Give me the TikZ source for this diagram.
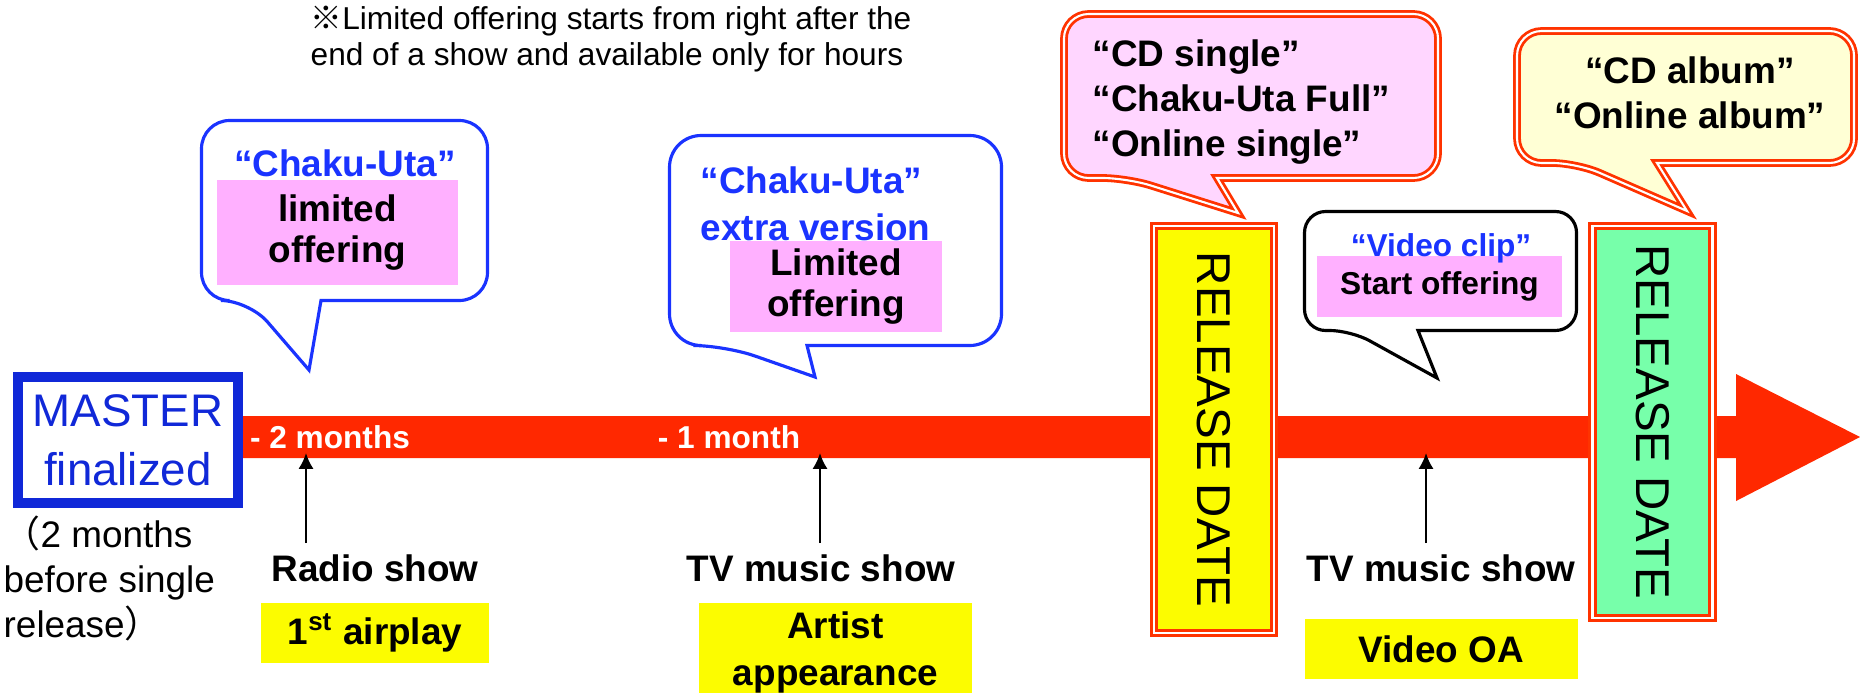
\documentclass[tikz,border=0pt]{standalone}
\usepackage{fontspec}
\setmainfont{Liberation Sans}
\newfontfamily\cjk{Noto Sans CJK JP}
\usetikzlibrary{arrows.meta}

\definecolor{barred}{RGB}{255,40,0}
\definecolor{edgered}{RGB}{255,51,0}
\definecolor{mblue}{RGB}{16,40,216}
\definecolor{cblue}{RGB}{26,51,255}
\definecolor{pinkfill}{RGB}{255,176,255}
\definecolor{lightpink}{RGB}{255,214,255}
\definecolor{creamy}{RGB}{255,255,213}
\definecolor{sunyellow}{RGB}{252,252,0}
\definecolor{mintgreen}{RGB}{119,255,170}

\begin{document}
\begin{tikzpicture}[
  yellowbox/.style={fill=sunyellow, inner sep=0pt, align=center, font=\bfseries\fontsize{10.5}{13.4}\selectfont},
  pinkbox/.style={fill=pinkfill, inner sep=0pt, align=center, font=\bfseries\fontsize{10.5}{11.7}\selectfont},
  showname/.style={font=\bfseries\fontsize{10.5}{12.6}\selectfont},
  bluetext/.style={text=cblue, align=left, font=\bfseries\fontsize{10.5}{13.4}\selectfont},
  bartext/.style={text=white, font=\bfseries\fontsize{9}{11}\selectfont},
  release/.style={draw=edgered, double=white, line width=0.9pt, double distance=0.6pt, rotate=-90, minimum height=1.2cm, inner sep=0pt, font=\fontsize{13.5}{16}\selectfont},
  bluebubble/.style={draw=cblue, line width=0.9pt, fill=white},
  redbubble/.style={draw=edgered, double=white, line width=0.8pt, double distance=0.6pt},
  tick/.style={-{Latex[length=4.5pt,width=4.3pt]}, line width=0.65pt},
]
\useasboundingbox (0,0) rectangle (18.6,6.92);

% time line
\fill[barred] (2.3,2.76) -- (17.36,2.76) -- (17.36,3.18) -- (18.6,2.55) -- (17.36,1.91) -- (17.36,2.34) -- (2.3,2.34) -- cycle;
\node[draw=mblue, line width=2.85pt, fill=white, text=mblue, minimum width=2.2cm, minimum height=1.26cm, inner sep=0pt, align=center, font=\fontsize{13}{16.8}\selectfont] (master) at (1.28,2.52) {MASTER\\finalized};
\node[anchor=west, align=left, inner sep=0pt, font=\fontsize{10.5}{12.8}\selectfont] (before) at (0.03,1.14) {{\cjk （}2 months\\before single\\release{\cjk ）}};
\node[bartext] (twomonths) at (3.30,2.55) {- 2 months};
\node[bartext] (onemonth) at (7.29,2.55) {- 1 month};

% release dates
\node[release, fill=sunyellow, minimum width=4.07cm] (rel1) at (12.14,2.625) {RELEASE DATE};
\node[release, fill=mintgreen, minimum width=3.92cm] (rel2) at (16.525,2.70) {RELEASE DATE};

% shows below the line
\coordinate (t1) at (3.06,1.49);
\coordinate (h1) at (3.06,2.39);
\coordinate (t2) at (8.20,1.49);
\coordinate (h2) at (8.20,2.39);
\coordinate (t3) at (14.26,1.49);
\coordinate (h3) at (14.26,2.39);
\draw[tick] (t1) -- (h1);
\draw[tick] (t2) -- (h2);
\draw[tick] (t3) -- (h3);
\node[showname] (radio) at (3.75,1.24) {Radio show};
\node[showname] (tvone) at (8.21,1.24) {TV music show};
\node[showname] (tvtwo) at (14.41,1.24) {TV music show};
\node[yellowbox, minimum width=2.28cm, minimum height=0.60cm] (airplay) at (3.75,0.59) {1\textsuperscript{st} airplay};
\node[yellowbox, minimum width=2.73cm, minimum height=0.98cm] (artist) at (8.355,0.40) {Artist\\appearance};
\node[yellowbox, minimum width=2.73cm, minimum height=0.60cm] (videooa) at (14.41,0.43) {Video OA};

% note
\node[anchor=west, align=left, inner sep=0pt, font=\fontsize{9}{10.3}\selectfont] (note) at (3.10,6.53) {{\cjk ※}Limited offering starts from right after the\\end of a show and available only for hours};

% bubbles
\draw[bluebubble] (2.49,3.915) -- (3.09,3.22) -- (3.21,3.915) [rounded corners=8pt] -- (4.875,3.915) -- (4.875,5.715) -- (2.015,5.715) -- (2.015,3.915) -- cycle;
\node[bluetext] (utaone) at (3.45,5.29) {“Chaku-Uta”};
\node[pinkbox, minimum width=2.41cm, minimum height=1.05cm] (limone) at (3.375,4.595) {limited\\offering};

\draw[bluebubble] (7.25,3.465) -- (8.15,3.15) -- (8.07,3.465) [rounded corners=9pt] -- (10.015,3.465) -- (10.015,5.565) -- (6.695,5.565) -- (6.695,3.465) -- cycle;
\node[pinkbox, minimum width=2.12cm, minimum height=0.91cm] (limtwo) at (8.36,4.055) {Limited\\offering};
\node[bluetext, anchor=west, inner sep=0pt] (utatwo) at (7.00,4.885) {“Chaku-Uta”\\extra version};

\draw[redbubble, fill=lightpink] (11.27,5.14) -- (12.38,4.79) -- (12.17,5.14) [rounded corners=7pt] -- (14.38,5.14) -- (14.38,6.78) -- (10.64,6.78) -- (10.64,5.14) -- cycle;
\node[anchor=west, align=left, inner sep=0pt, font=\bfseries\fontsize{10.5}{12.8}\selectfont] (single) at (10.92,5.90) {“CD single”\\“Chaku-Uta Full”\\“Online single”};

\draw[redbubble, fill=creamy] (15.77,5.29) -- (16.87,4.81) -- (16.57,5.29) [rounded corners=7pt] -- (18.54,5.29) -- (18.54,6.61) -- (15.17,6.61) -- (15.17,5.29) -- cycle;
\node[align=center, font=\bfseries\fontsize{10.5}{12.8}\selectfont] (album) at (16.90,5.995) {“CD album”\\“Online album”};

\draw[line width=0.9pt, fill=white] (13.51,3.615) -- (14.37,3.14) -- (14.18,3.615) [rounded corners=6pt] -- (15.765,3.615) -- (15.765,4.805) -- (13.045,4.805) -- (13.045,3.615) -- cycle;
\node[pinkbox, minimum width=2.45cm, minimum height=0.61cm, font=\bfseries\fontsize{9}{11}\selectfont] (startoff) at (14.395,4.055) {Start offering};
\node[text=cblue, font=\bfseries\fontsize{9}{11}\selectfont] (clip) at (14.41,4.44) {“Video clip”};

\end{tikzpicture}
\end{document}
